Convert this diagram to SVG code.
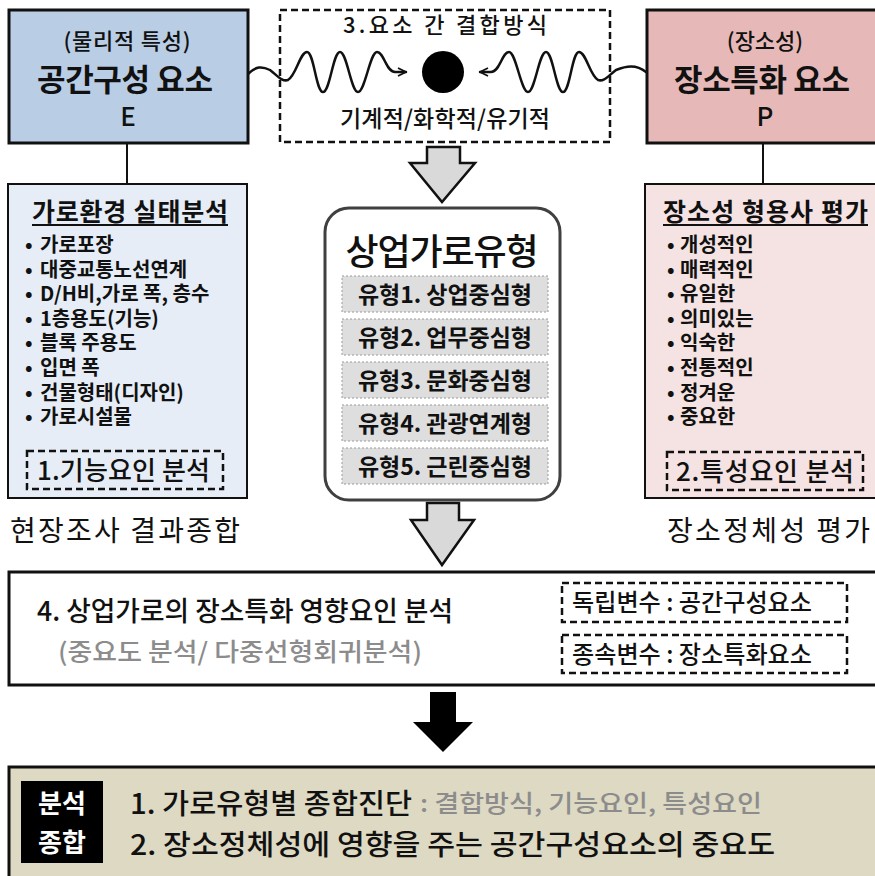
<svg xmlns="http://www.w3.org/2000/svg" width="875" height="876" viewBox="0 0 875 876">
<style>
text{font-family:"Noto Sans CJK KR","Liberation Sans",sans-serif;fill:#111}
.b{font-weight:700}
.m{font-weight:500}
.c{text-anchor:middle}
.dash{fill:none;stroke:#111;stroke-width:2.5;stroke-dasharray:7 4}
.box{stroke:#111;stroke-width:3}
.item{fill:#dedede;stroke:#9a9a9a;stroke-width:1;stroke-dasharray:2 2}
.garrow{fill:#d9d9d9;stroke:#111;stroke-width:2.5;stroke-linejoin:miter}
.wave{fill:none;stroke:#111;stroke-width:2.5;stroke-linecap:round}
.gray{fill:#8c8c8c}
.li{font-size:20px;font-weight:700}
</style>
<defs>
<marker id="chev" viewBox="0 0 10 10" refX="9" refY="5" markerWidth="10" markerHeight="10" markerUnits="userSpaceOnUse" orient="auto">
<path d="M1,1 L9,5 L1,9" fill="none" stroke="#111" stroke-width="1.8"/>
</marker>
</defs>

<g id="connectors">
<line x1="127" y1="143" x2="127" y2="184" stroke="#111" stroke-width="2"/>
<line x1="763" y1="143" x2="763" y2="184" stroke="#111" stroke-width="2"/>
<path class="wave" marker-end="url(#chev)" d="M248,74 C256,66 262,66 270,70 C278,76 282,82 288,80 C296,76 300,52 307,52 C314,52 316,92 323,92 C330,92 333,52 340,52 C347,52 351,92 358,92 C365,92 370,52 377,52 C384,52 386,72 395,72 L406,72"/>
<path class="wave" marker-end="url(#chev)" d="M646,72 C636,64 626,66 616,70 C608,76 604,82 598,80 C590,76 586,52 579,52 C572,52 570,92 563,92 C556,92 553,52 546,52 C539,52 535,92 528,92 C521,92 516,52 509,52 C502,52 500,72 491,72 L480,72"/>
<polygon class="garrow" points="427,147 460,147 460,163 475,163 442,202 410,163 427,163"/>
<polygon class="garrow" points="427,503 459,503 459,520 474,520 442,565 411,520 427,520"/>
<polygon fill="#000" points="430,692 456,692 456,722 473,722 443,752 413,722 430,722"/>
</g>

<g id="nodeE">
<rect class="box" x="9" y="10" width="239" height="133" fill="#b9cde5"/>
<text class="c m" x="127" y="49" font-size="22" textLength="127">(물리적 특성)</text>
<text class="c b" x="125" y="91" font-size="31" textLength="176">공간구성 요소</text>
<text class="c m" x="128" y="126" font-size="26">E</text>
</g>

<g id="nodeP">
<rect class="box" x="647" y="10" width="240" height="133" fill="#e6b9b8"/>
<text class="c m" x="765" y="49" font-size="22">(장소성)</text>
<text class="c b" x="762" y="91" font-size="31" textLength="176">장소특화 요소</text>
<text class="c m" x="765" y="126" font-size="26">P</text>
</g>

<g id="node3">
<rect class="dash" x="280" y="10" width="330" height="132"/>
<text class="c m" x="445" y="33" font-size="22" textLength="204">3.요소 간 결합방식</text>
<circle cx="443" cy="72" r="21" fill="#000"/>
<text class="c m" x="445" y="127" font-size="23" textLength="210">기계적/화학적/유기적</text>
</g>

<g id="nodeLeft">
<rect x="8" y="184" width="239" height="314" fill="#e6edf6" stroke="#111" stroke-width="2"/>
<text class="b" x="32" y="221" font-size="25" textLength="196">가로환경 실태분석</text>
<line x1="32" y1="225" x2="228" y2="225" stroke="#111" stroke-width="2"/>
<g class="li">
<text y="252"><tspan x="25">•</tspan><tspan x="40">가로포장</tspan></text>
<text y="276.6"><tspan x="25">•</tspan><tspan x="40">대중교통노선연계</tspan></text>
<text y="301.2"><tspan x="25">•</tspan><tspan x="40">D/H비,가로  폭, 층수</tspan></text>
<text y="325.8"><tspan x="25">•</tspan><tspan x="40">1층용도(기능)</tspan></text>
<text y="350.4"><tspan x="25">•</tspan><tspan x="40">블록  주용도</tspan></text>
<text y="375"><tspan x="25">•</tspan><tspan x="40">입면  폭</tspan></text>
<text y="399.6"><tspan x="25">•</tspan><tspan x="40">건물형태(디자인)</tspan></text>
<text y="424.2"><tspan x="25">•</tspan><tspan x="40">가로시설물</tspan></text>
</g>
<rect class="dash" x="27" y="451" width="196" height="38"/>
<text class="m" x="37" y="480" font-size="26" textLength="173">1.기능요인 분석</text>
<text x="10" y="541" font-size="28" textLength="230">현장조사  결과종합</text>
</g>

<g id="nodeTypes">
<rect x="325" y="208" width="235" height="292" rx="24" fill="#fff" stroke="#404040" stroke-width="3"/>
<text class="c m" x="442" y="265" font-size="36" textLength="193">상업가로유형</text>
<rect class="item" x="342" y="276" width="206" height="36"/>
<rect class="item" x="342" y="319" width="206" height="36"/>
<rect class="item" x="342" y="362" width="206" height="36"/>
<rect class="item" x="342" y="405" width="206" height="36"/>
<rect class="item" x="342" y="448" width="206" height="36"/>
<g class="c b" font-size="23">
<text x="445" y="303" textLength="174">유형1. 상업중심형</text>
<text x="445" y="346" textLength="174">유형2. 업무중심형</text>
<text x="445" y="389" textLength="174">유형3. 문화중심형</text>
<text x="445" y="432" textLength="174">유형4. 관광연계형</text>
<text x="445" y="475" textLength="174">유형5. 근린중심형</text>
</g>
</g>

<g id="nodeRight">
<rect x="645" y="184" width="240" height="314" fill="#f4e3e2" stroke="#111" stroke-width="2"/>
<text class="b" x="663" y="221" font-size="25" textLength="205">장소성 형용사 평가</text>
<line x1="663" y1="225" x2="868" y2="225" stroke="#111" stroke-width="2"/>
<g class="li">
<text y="252"><tspan x="667">•</tspan><tspan x="680">개성적인</tspan></text>
<text y="276.6"><tspan x="667">•</tspan><tspan x="680">매력적인</tspan></text>
<text y="301.2"><tspan x="667">•</tspan><tspan x="680">유일한</tspan></text>
<text y="325.8"><tspan x="667">•</tspan><tspan x="680">의미있는</tspan></text>
<text y="350.4"><tspan x="667">•</tspan><tspan x="680">익숙한</tspan></text>
<text y="375"><tspan x="667">•</tspan><tspan x="680">전통적인</tspan></text>
<text y="399.6"><tspan x="667">•</tspan><tspan x="680">정겨운</tspan></text>
<text y="424.2"><tspan x="667">•</tspan><tspan x="680">중요한</tspan></text>
</g>
<rect class="dash" x="667" y="452" width="196" height="38"/>
<text class="m" x="676" y="481" font-size="26" textLength="178">2.특성요인 분석</text>
<text x="667" y="541" font-size="28" textLength="203">장소정체성  평가</text>
</g>

<g id="node4">
<rect class="box" x="9" y="572" width="880" height="113" fill="#fff"/>
<text class="m" x="37" y="621" font-size="27" textLength="416" lengthAdjust="spacingAndGlyphs">4. 상업가로의 장소특화 영향요인 분석</text>
<text class="gray m" x="58" y="661" font-size="25" textLength="364" lengthAdjust="spacingAndGlyphs">(중요도 분석/ 다중선형회귀분석)</text>
<rect class="dash" x="562" y="583" width="285" height="39"/>
<text class="m" x="572" y="611" font-size="24" textLength="240" lengthAdjust="spacingAndGlyphs">독립변수 : 공간구성요소</text>
<rect class="dash" x="562" y="635" width="285" height="38"/>
<text class="m" x="572" y="663" font-size="24" textLength="240" lengthAdjust="spacingAndGlyphs">종속변수 : 장소특화요소</text>
</g>

<g id="nodeSummary">
<rect class="box" x="9" y="767" width="880" height="120" fill="#ddd9c3"/>
<rect x="21" y="781" width="82" height="82" fill="#000"/>
<text class="c b" x="62" y="813" font-size="26" style="fill:#fff">분석</text>
<text class="c b" x="62" y="852" font-size="26" style="fill:#fff">종합</text>
<text class="m" x="130" y="814" font-size="28" textLength="282" lengthAdjust="spacingAndGlyphs">1. 가로유형별 종합진단</text>
<text class="gray m" x="420" y="812" font-size="24" textLength="342" lengthAdjust="spacingAndGlyphs">: 결합방식, 기능요인, 특성요인</text>
<text class="m" x="130" y="855" font-size="28" textLength="645" lengthAdjust="spacingAndGlyphs">2. 장소정체성에 영향을 주는 공간구성요소의 중요도</text>
</g>
</svg>
